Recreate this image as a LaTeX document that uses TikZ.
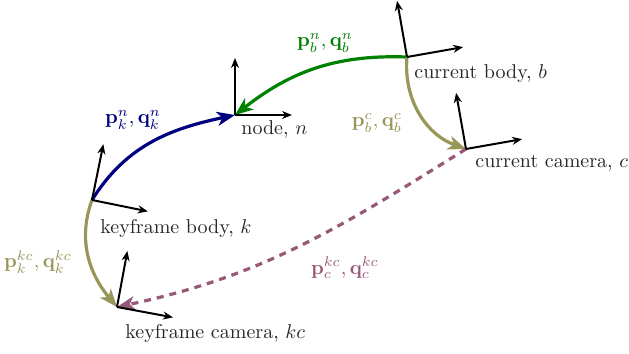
\documentclass[tikz,border=0pt]{standalone}
\usetikzlibrary{arrows.meta}
\definecolor{navyLink}{RGB}{0,0,128}
\definecolor{greenLink}{RGB}{0,128,0}
\definecolor{oliveLink}{RGB}{153,150,90}
\definecolor{mauveLink}{RGB}{150,90,120}

\begin{document}
\begin{tikzpicture}[x=0.5pt, y=0.5pt,
    axis/.style={line width=1pt, -{Stealth[length=5pt,width=4pt]}},
    link/.style={line width=1.6pt, -{Stealth[length=9pt,width=7pt,inset=2.5pt]}},
    framelbl/.style={anchor=base west, inner sep=0pt, text=black!85}]
    \useasboundingbox (0,0) rectangle (629,354);

    % ---------- frame origins ----------
    \coordinate (k)  at (92,154);
    \coordinate (n)  at (235,239);
    \coordinate (b)  at (407,297);
    \coordinate (c)  at (466,205);
    \coordinate (kc) at (117,47);

    % ---------- transforms ----------
    \draw[link, navyLink] (k) to[out=58, in=192] (n);
    \draw[link, greenLink] (b) to[out=178, in=38] (n);
    \draw[link, oliveLink] (b) to[out=265, in=160] (c);
    \draw[link, oliveLink] (k) to[out=250, in=130] (kc);
    \draw[link, mauveLink, dash pattern=on 3.5pt off 3pt] (c) to[out=212, in=12] (kc);

    \node[navyLink] (lkn) at (133,234) {$\mathbf{p}_k^n,\mathbf{q}_k^n$};
    \node[greenLink] (lbn) at (325,311) {$\mathbf{p}_b^n,\mathbf{q}_b^n$};
    \node[oliveLink] (lbc) at (377,231) {$\mathbf{p}_b^c,\mathbf{q}_b^c$};
    \node[oliveLink] (lkkc) at (38,92) {$\mathbf{p}_k^{kc},\mathbf{q}_k^{kc}$};
    \node[mauveLink] (lckc) at (345,86) {$\mathbf{p}_c^{kc},\mathbf{q}_c^{kc}$};

    % ---------- axes ----------
    \foreach \f/\r in {k/-11.5, kc/-10.5, n/0, b/10, c/10} {
        \draw[axis] (\f) -- ++(\r:57);
        \draw[axis] (\f) -- ++(\r+90:57);
    }

    \node[framelbl] (tn)  at (241,219) {node, $n$};
    \node[framelbl] (tb)  at (414,275) {current body, $b$};
    \node[framelbl] (tc)  at (475,186) {current camera, $c$};
    \node[framelbl] (tk)  at (100,120) {keyframe body, $k$};
    \node[framelbl] (tkc) at (125,15)  {keyframe camera, $kc$};
\end{tikzpicture}
\end{document}
